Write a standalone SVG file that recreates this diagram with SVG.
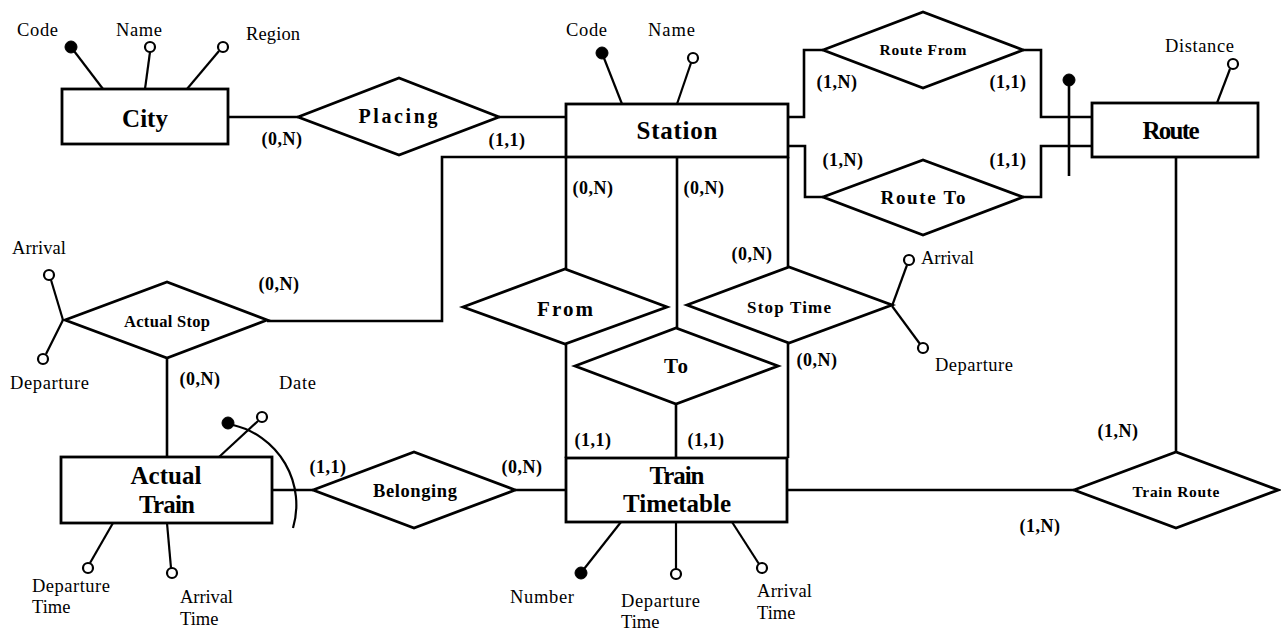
<svg xmlns="http://www.w3.org/2000/svg" width="1281" height="630" viewBox="0 0 1281 630">
<style>
.ln{fill:none;stroke:#000;stroke-width:2.6;stroke-linejoin:miter}
.at{fill:none;stroke:#000;stroke-width:2.2}
.ent{fill:#fff;stroke:#000;stroke-width:2.8}
.rel{fill:#fff;stroke:#000;stroke-width:2.8;stroke-linejoin:miter}
.oc{fill:#fff;stroke:#000;stroke-width:2.2}
.fc{fill:#000;stroke:#000;stroke-width:1}
.en{font-family:"Liberation Serif","Times New Roman",serif;font-weight:bold;font-size:25px;text-anchor:middle}
.rn{font-family:"Liberation Serif","Times New Roman",serif;font-weight:bold;text-anchor:middle}
.cd{font-family:"Liberation Serif","Times New Roman",serif;font-weight:bold;font-size:18px;letter-spacing:0.5px;text-anchor:middle}
.an{font-family:"Liberation Serif","Times New Roman",serif;font-size:18.5px}
</style>
<g id="connectors">
<path class="ln" d="M228 117 H298"/>
<path class="ln" d="M499 117 H566"/>
<path class="ln" d="M566 157 H442 V321 H267"/>
<path class="ln" d="M566 157 V269"/>
<path class="ln" d="M677 157 V328"/>
<path class="ln" d="M788 157 V267"/>
<path class="ln" d="M566 344 V458"/>
<path class="ln" d="M676 404 V458"/>
<path class="ln" d="M788 343 V458"/>
<path class="ln" d="M788 117 H804 V50 H823"/>
<path class="ln" d="M1023 50 H1041 V117 H1092"/>
<path class="ln" d="M788 146 H805 V197 H823"/>
<path class="ln" d="M1023 197 H1041 V146 H1092"/>
<path class="ln" d="M1176 157 V452"/>
<path class="ln" d="M787 490 H1074"/>
<path class="ln" d="M167 358 V457"/>
<path class="ln" d="M272 490 H313"/>
<path class="ln" d="M515 490 H566"/>
<path class="ln" d="M1069 80 V176"/>
<circle class="fc" cx="1069" cy="80" r="6"/>
<g class="cd">
<text x="282" y="145">(0,N)</text>
<text x="507" y="146">(1,1)</text>
<text x="593" y="194">(0,N)</text>
<text x="704" y="194">(0,N)</text>
<text x="752" y="260">(0,N)</text>
<text x="817" y="366">(0,N)</text>
<text x="279" y="290">(0,N)</text>
<text x="200" y="385">(0,N)</text>
<text x="328" y="473">(1,1)</text>
<text x="522" y="473">(0,N)</text>
<text x="593" y="446">(1,1)</text>
<text x="706" y="446">(1,1)</text>
<text x="837" y="88">(1,N)</text>
<text x="1008" y="88">(1,1)</text>
<text x="843" y="166">(1,N)</text>
<text x="1008" y="166">(1,1)</text>
<text x="1118" y="437">(1,N)</text>
<text x="1040" y="532">(1,N)</text>
</g>
</g>
<g id="city">
<line class="at" x1="103" y1="89" x2="71" y2="47"/><circle class="fc" cx="71" cy="47" r="6"/>
<line class="at" x1="145" y1="89" x2="150" y2="52"/><circle class="oc" cx="150" cy="47" r="5"/>
<line class="at" x1="187" y1="89" x2="219" y2="51"/><circle class="oc" cx="223" cy="47" r="5"/>
<text class="an" x="17" y="36" textLength="41">Code</text>
<text class="an" x="116" y="36" textLength="46">Name</text>
<text class="an" x="246" y="40" textLength="54">Region</text>
<rect class="ent" x="62" y="89" width="166" height="55"/>
<text class="en" x="145" y="127">City</text>
</g>
<g id="station">
<line class="at" x1="622" y1="104" x2="602" y2="53"/><circle class="fc" cx="602" cy="53" r="6"/>
<line class="at" x1="677" y1="104" x2="691" y2="63"/><circle class="oc" cx="693" cy="58" r="5"/>
<text class="an" x="566" y="36" textLength="41">Code</text>
<text class="an" x="648" y="36" textLength="47">Name</text>
<rect class="ent" x="566" y="104" width="222" height="53"/>
<text class="en" x="677" y="139" textLength="81">Station</text>
</g>
<g id="route">
<line class="at" x1="1217" y1="103" x2="1230" y2="69"/><circle class="oc" cx="1233" cy="64" r="5"/>
<text class="an" x="1165" y="52" textLength="69">Distance</text>
<rect class="ent" x="1092" y="103" width="166" height="54"/>
<text class="en" x="1171" y="139" textLength="57">Route</text>
</g>
<g id="placing">
<polygon class="rel" points="298,117 399,78 499,117 399,155"/>
<text class="rn" x="398" y="123" font-size="20" textLength="79">Placing</text>
</g>
<g id="route-from">
<polygon class="rel" points="823,50 923,12 1023,50 923,88"/>
<text class="rn" x="923" y="55" font-size="15.5" textLength="87">Route From</text>
</g>
<g id="route-to">
<polygon class="rel" points="823,197 923,160 1023,197 923,235"/>
<text class="rn" x="923" y="204" font-size="19" textLength="85">Route To</text>
</g>
<g id="from">
<polygon class="rel" points="463,307 565,269 667,307 565,344"/>
<text class="rn" x="565" y="316" font-size="21" textLength="56">From</text>
</g>
<g id="to">
<polygon class="rel" points="575,366 676,328 778,366 676,404"/>
<text class="rn" x="676" y="373" font-size="21" textLength="24">To</text>
</g>
<g id="stop-time">
<line class="at" x1="892" y1="306" x2="907" y2="265"/><circle class="oc" cx="909" cy="260" r="5"/>
<line class="at" x1="892" y1="306" x2="920" y2="344"/><circle class="oc" cx="923" cy="348" r="5"/>
<text class="an" x="921" y="264" textLength="53">Arrival</text>
<text class="an" x="935" y="371" textLength="78">Departure</text>
<polygon class="rel" points="687,305 789,267 892,305 789,343"/>
<text class="rn" x="789" y="313" font-size="17" textLength="84">Stop Time</text>
</g>
<g id="actual-stop">
<line class="at" x1="63" y1="320" x2="51" y2="280"/><circle class="oc" cx="49" cy="275" r="5"/>
<line class="at" x1="63" y1="320" x2="46" y2="354"/><circle class="oc" cx="43" cy="359" r="5"/>
<text class="an" x="12" y="254" textLength="54">Arrival</text>
<text class="an" x="10" y="389" textLength="79">Departure</text>
<polygon class="rel" points="65,320 167,282 267,320 167,358"/>
<text class="rn" x="167" y="327" font-size="16.5" textLength="86">Actual Stop</text>
</g>
<g id="actual-train">
<path class="at" d="M233 425 A82 82 0 0 1 293 528"/>
<circle class="fc" cx="228" cy="423" r="6"/>
<line class="at" x1="219" y1="457" x2="258" y2="421"/><circle class="oc" cx="262" cy="417" r="5"/>
<text class="an" x="279" y="389" textLength="37">Date</text>
<line class="at" x1="113" y1="523" x2="90" y2="563"/><circle class="oc" cx="88" cy="568" r="5"/>
<line class="at" x1="167" y1="523" x2="171" y2="568"/><circle class="oc" cx="172" cy="573" r="5"/>
<text class="an" x="32" y="592" textLength="78">Departure</text>
<text class="an" x="32" y="613">Time</text>
<text class="an" x="180" y="603" textLength="53">Arrival</text>
<text class="an" x="180" y="625">Time</text>
<rect class="ent" x="61" y="457" width="211" height="66"/>
<text class="en" x="166" y="484" textLength="71">Actual</text>
<text class="en" x="167" y="513" textLength="56">Train</text>
</g>
<g id="belonging">
<polygon class="rel" points="313,490 414,452 515,490 414,528"/>
<text class="rn" x="415" y="497" font-size="18.5" textLength="84">Belonging</text>
</g>
<g id="train-timetable">
<line class="at" x1="621" y1="522" x2="584" y2="569"/><circle class="fc" cx="581" cy="573" r="6"/>
<line class="at" x1="676" y1="522" x2="676" y2="569"/><circle class="oc" cx="676" cy="574" r="5"/>
<line class="at" x1="732" y1="522" x2="759" y2="564"/><circle class="oc" cx="762" cy="568" r="5"/>
<text class="an" x="510" y="603" textLength="64">Number</text>
<text class="an" x="621" y="607" textLength="79">Departure</text>
<text class="an" x="621" y="628">Time</text>
<text class="an" x="757" y="597" textLength="55">Arrival</text>
<text class="an" x="757" y="619">Time</text>
<rect class="ent" x="566" y="458" width="221" height="64"/>
<text class="en" x="677" y="484" textLength="55">Train</text>
<text class="en" x="677" y="512" textLength="108">Timetable</text>
</g>
<g id="train-route">
<polygon class="rel" points="1074,490 1176,452 1278,490 1176,528"/>
<text class="rn" x="1176" y="497" font-size="15.5" textLength="87">Train Route</text>
</g>
</svg>
